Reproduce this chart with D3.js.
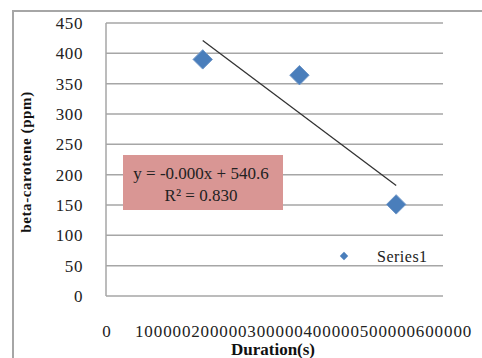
<!DOCTYPE html>
<meta charset="utf-8">
<script src="https://d3js.org/d3.v7.min.js"></script>
<style>
    body { margin: 0; background: #fff; }
    svg text { font-family: "Liberation Serif", "DejaVu Serif", serif; }
</style>
<div id="chart"></div>
<script>
    // values
    var durations = [172200, 344400, 516600];
    var carotene = [390, 364, 151];
    var yTicks = [0, 50, 100, 150, 200, 250, 300, 350, 400, 450];
    var xTicks = [0, 100000, 200000, 300000, 400000, 500000, 600000];
    var seriesName = "Series1";
    var equationLines = ["y = -0.000x + 540.6", "R\u00b2 = 0.830"];

    var width = 482, height = 358;
    var plot = { left: 106, right: 443, top: 23, bottom: 296 };

    var svg = d3.select('#chart').append('svg')
        .attr('width', width)
        .attr('height', height);

    // outer chart frame (only top and left show)
    svg.append('path')
        .attr('d', `M13,${height} V11 H${width}`)
        .attr('fill', 'none')
        .attr('stroke', '#a6a6a6')
        .attr('stroke-width', 2);

    var x = d3.scaleLinear().domain([0, 600000]).range([plot.left, plot.right]);
    var y = d3.scaleLinear().domain([0, 450]).range([plot.bottom, plot.top]);

    // gridlines
    svg.append('g')
        .selectAll('line')
        .data(yTicks)
        .join('line')
        .attr('x1', plot.left)
        .attr('x2', plot.right)
        .attr('y1', d => y(d))
        .attr('y2', d => y(d))
        .attr('stroke', '#a6a6a6')
        .attr('stroke-width', 1.5);

    // y axis line
    svg.append('line')
        .attr('x1', plot.left).attr('x2', plot.left)
        .attr('y1', plot.top).attr('y2', plot.bottom)
        .attr('stroke', '#a6a6a6')
        .attr('stroke-width', 1.5);

    // y tick labels
    svg.append('g')
        .selectAll('text')
        .data(yTicks)
        .join('text')
        .attr('x', 83)
        .attr('y', d => y(d) + 6)
        .attr('text-anchor', 'end')
        .attr('font-size', 17)
        .attr('letter-spacing', 0.6)
        .attr('fill', '#222')
        .text(d => d);

    // x tick labels sit well below the plot
    svg.append('g')
        .selectAll('text')
        .data(xTicks)
        .join('text')
        .attr('x', d => x(d) + 1)
        .attr('y', 337)
        .attr('text-anchor', 'middle')
        .attr('font-size', 17)
        .attr('letter-spacing', 0.9)
        .attr('fill', '#222')
        .text(d => d);

    // axis titles
    svg.append('text')
        .attr('transform', 'translate(31,162) rotate(-90)')
        .attr('text-anchor', 'middle')
        .attr('font-size', 15)
        .attr('font-weight', 'bold')
        .attr('letter-spacing', 0.6)
        .attr('fill', '#111')
        .text('beta-carotene (ppm)');

    svg.append('text')
        .attr('x', 273)
        .attr('y', 355)
        .attr('text-anchor', 'middle')
        .attr('font-size', 17)
        .attr('font-weight', 'bold')
        .attr('fill', '#111')
        .text('Duration(s)');

    // linear trendline over the data range, least squares
    var pts = durations.map((d, i) => [d, carotene[i]]);
    var mx = d3.mean(durations), my = d3.mean(carotene);
    var sxy = d3.sum(pts, p => (p[0] - mx) * (p[1] - my));
    var sxx = d3.sum(pts, p => (p[0] - mx) * (p[0] - mx));
    var slope = sxy / sxx, intercept = my - slope * mx;
    var xr = d3.extent(durations);

    svg.append('line')
        .attr('x1', x(xr[0])).attr('y1', y(intercept + slope * xr[0]))
        .attr('x2', x(xr[1])).attr('y2', y(intercept + slope * xr[1]))
        .attr('stroke', '#333')
        .attr('stroke-width', 1.3);

    // diamond markers
    var diamond = d3.symbol().type(d3.symbolDiamond2);
    svg.append('g')
        .selectAll('path')
        .data(pts)
        .join('path')
        .attr('d', diamond.size(240))
        .attr('transform', d => `translate(${x(d[0])},${y(d[1])})`)
        .attr('fill', '#4a7ebb')
        .attr('stroke', '#6f97c8')
        .attr('stroke-width', 1);

    // equation box
    svg.append('rect')
        .attr('x', 123).attr('y', 155)
        .attr('width', 160).attr('height', 55)
        .attr('fill', '#d99694');

    svg.append('g')
        .selectAll('text')
        .data(equationLines)
        .join('text')
        .attr('x', 201)
        .attr('y', (d, i) => 179 + i * 22)
        .attr('text-anchor', 'middle')
        .attr('font-size', 17)
        .attr('fill', '#222')
        .text(d => d);

    // legend
    svg.append('path')
        .attr('d', d3.symbol().type(d3.symbolDiamond2).size(45)())
        .attr('transform', 'translate(344,256)')
        .attr('fill', '#4a7ebb');

    svg.append('text')
        .attr('x', 377)
        .attr('y', 262)
        .attr('font-size', 16)
        .attr('letter-spacing', 0.5)
        .attr('fill', '#222')
        .text(seriesName);
</script>
